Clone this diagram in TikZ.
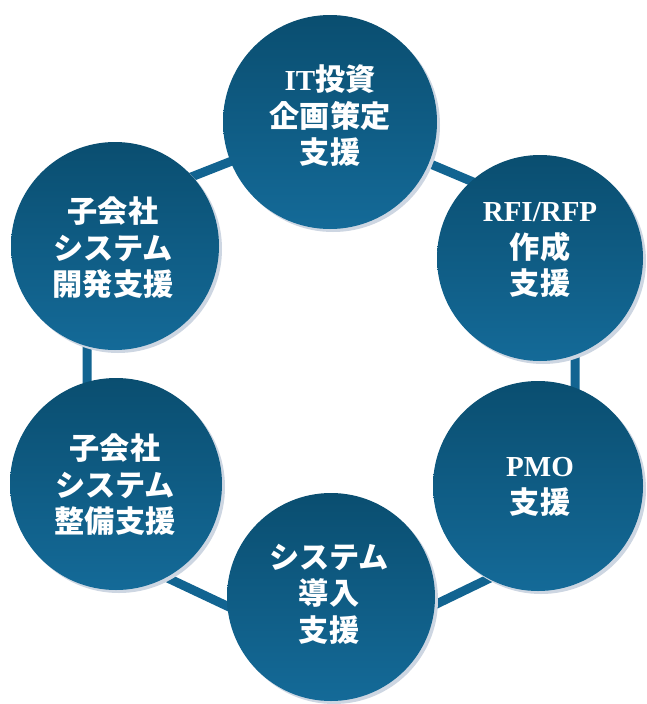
\documentclass[tikz,border=0pt]{standalone}
\usepackage{fontspec}
\setmainfont{Liberation Serif}
\newfontfamily\cjk{Noto Sans CJK JP}[Scale=1.04]
\newcommand\jp[1]{{\cjk #1}}
\definecolor{ctop}{RGB}{10,78,112}
\definecolor{cbot}{RGB}{20,106,152}
\definecolor{cconn}{RGB}{18,100,145}
\definecolor{cshadow}{RGB}{205,214,226}
\tikzset{
  bub/.style={circle, minimum size=#1, inner sep=0pt, top color=ctop, bottom color=cbot, draw=none},
  shad/.style={circle, minimum size=#1, inner sep=0pt, fill=cshadow, draw=none},
  lbl/.style={text=white, font=\bfseries\fontsize{29}{36.5}\selectfont, align=center, inner sep=0pt},
  conn/.style={draw=cconn, line width=9pt, line join=miter}
}
\begin{document}
\begin{tikzpicture}[x=1pt,y=-1pt]
\useasboundingbox[fill=white] (0,0) rectangle (646,704);
% ring vertices
\coordinate (vT) at (331,122);
\coordinate (vUR) at (575,225);
\coordinate (vLR) at (575,537);
\coordinate (vB) at (331,655);
\coordinate (vLL) at (87,540);
\coordinate (vUL) at (87,218);
\draw[conn] (vT) -- (vUR) -- (vLR) -- (vB) -- (vLL) -- (vUL) -- cycle;
% shadows
\node[shad=214pt] (sT) at (333,125) {};
\node[shad=206pt] (sUR) at (543,261) {};
\node[shad=210pt] (sLR) at (541,489) {};
\node[shad=208pt] (sB) at (334,600) {};
\node[shad=212pt] (sLL) at (119,487) {};
\node[shad=208pt] (sUL) at (118,249) {};
% circles
\node[bub=214pt] (cT) at (330,122) {};
\node[bub=206pt] (cUR) at (540,258) {};
\node[bub=210pt] (cLR) at (538,486) {};
\node[bub=208pt] (cB) at (331,597) {};
\node[bub=212pt] (cLL) at (116,484) {};
\node[bub=208pt] (cUL) at (115,246) {};
% labels
\node[lbl] (tT) at (330,116) {IT\jp{投資}\\\jp{企画策定}\\\jp{支援}};
\node[lbl] (tUR) at (540,250) {RFI/RFP\\\jp{作成}\\\jp{支援}};
\node[lbl] (tLR) at (540,487) {PMO\\\jp{支援}};
\node[lbl] (tB) at (329,594) {\jp{システム}\\\jp{導入}\\\jp{支援}};
\node[lbl] (tLL) at (115,485) {\jp{子会社}\\\jp{システム}\\\jp{整備支援}};
\node[lbl] (tUL) at (113,248) {\jp{子会社}\\\jp{システム}\\\jp{開発支援}};
\end{tikzpicture}
\end{document}
